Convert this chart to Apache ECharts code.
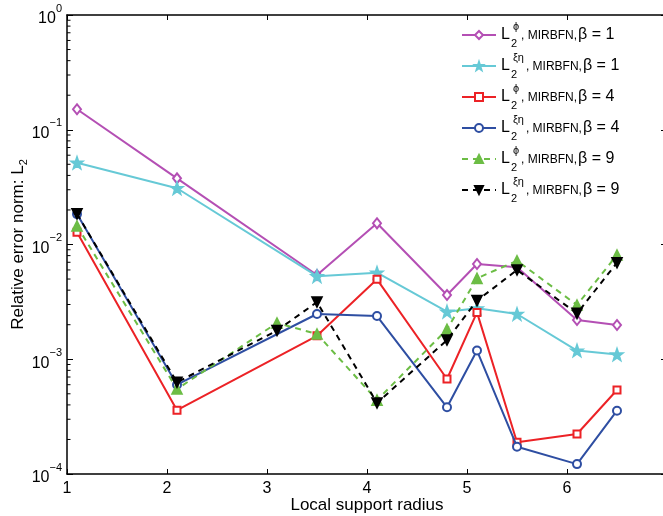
<!DOCTYPE html>
<html>
<head>
<meta charset="utf-8">
<script src="https://cdn.jsdelivr.net/npm/echarts@6/dist/echarts.min.js"></script>
<style>
html,body{margin:0;padding:0;background:#fff;}
#chart{width:663px;height:516px;}
</style>
</head>
<body>
<div id="chart"></div>
<script>
// ---- data ----
var xB14 = [1.1, 2.1, 3.5, 4.1, 4.8, 5.1, 5.5, 6.1, 6.5];
var xB9 = [1.1, 2.1, 3.1, 3.5, 4.1, 4.8, 5.1, 5.5, 6.1, 6.5];
var phiB1 = [0.151, 0.0377, 0.00542, 0.0153, 0.00363, 0.00676, 0.00633, 0.0022, 0.00199];
var xiB1 = [0.0516, 0.0309, 0.0053, 0.00568, 0.0026, 0.00278, 0.00248, 0.00119, 0.0011];
var phiB4 = [0.0128, 0.00036, 0.0016, 0.00497, 0.000673, 0.00256, 0.000189, 0.000223, 0.00054];
var xiB4 = [0.0184, 0.00060, 0.00248, 0.00238, 0.000381, 0.00119, 0.000173, 0.000122, 0.000356];
var phiB9 = [0.0145, 0.00055, 0.00207, 0.00166, 0.00044, 0.00182, 0.00507, 0.00722, 0.00297, 0.0081];
var xiB9 = [0.0185, 0.00063, 0.00178, 0.00315, 0.000416, 0.00147, 0.00324, 0.006, 0.00251, 0.00694];
var seriesNames = ['phiB1', 'xiB1', 'phiB4', 'xiB4', 'phiB9', 'xiB9'];
var seriesSup = ['\u03d5', '\u03be\u03b7', '\u03d5', '\u03be\u03b7', '\u03d5', '\u03be\u03b7'];
var seriesBeta = ['1', '1', '4', '4', '9', '9'];
var xTicks = [1, 2, 3, 4, 5, 6];
var yTickExps = [0, -1, -2, -3, -4];

function pairs(xs, ys) { return xs.map(function (x, i) { return [x, ys[i]]; }); }

var FONT = '"Liberation Sans", Arial, Helvetica, sans-serif';
var starPath = 'path://M0,-10L2.35,-3.24L9.51,-3.09L3.8,1.24L5.88,8.09L0,4L-5.88,8.09L-3.8,1.24L-9.51,-3.09L-2.35,-3.24Z';

var styles = [
  {color: '#b44fb4', symbol: 'emptyDiamond', size: [8, 10], dash: 'solid', data: pairs(xB14, phiB1)},
  {color: '#66c9d6', symbol: starPath, size: 12, dash: 'solid', data: pairs(xB14, xiB1)},
  {color: '#ec2226', symbol: 'emptyRect', size: 7, dash: 'solid', data: pairs(xB14, phiB4)},
  {color: '#2e4ea2', symbol: 'emptyCircle', size: 8, dash: 'solid', data: pairs(xB14, xiB4)},
  {color: '#6cbd45', symbol: 'triangle', size: 10, dash: [6, 5], data: pairs(xB9, phiB9)},
  {color: '#000000', symbol: 'triangle', size: 10, rotate: 180, dash: [6, 5], data: pairs(xB9, xiB9)}
];

var series = styles.map(function (s, i) {
  return {
    name: seriesNames[i],
    type: 'line',
    data: s.data,
    symbol: s.symbol,
    symbolSize: s.size,
    symbolRotate: s.rotate || 0,
    showAllSymbol: true,
    lineStyle: {color: s.color, width: 2, type: s.dash},
    itemStyle: {color: s.color, borderColor: s.color, borderWidth: 1.6},
    emphasis: {disabled: true},
    animation: false,
    z: 2 + i
  };
});

var chart = echarts.init(document.getElementById('chart'), null, {renderer: 'canvas'});

var supMinus = function (e) { return e < 0 ? '\u2212' + (-e) : String(e); };

var option = {
  animation: false,
  backgroundColor: '#ffffff',
  grid: {left: 67, top: 15, width: 600, height: 459, show: false, containLabel: false, outerBoundsMode: 'none'},
  legend: {
    show: true,
    left: 461,
    top: 21,
    padding: 0,
    orient: 'vertical',
    itemWidth: 34,
    itemHeight: 10,
    itemGap: 3,
    data: seriesNames,
    formatter: function (name) {
      var i = seriesNames.indexOf(name);
      return '{L|L}{sub|2}{sup|' + seriesSup[i] + '}{m|, MIRBFN,}{b|\u03b2 = ' + seriesBeta[i] + '}';
    },
    textStyle: {
      fontFamily: FONT,
      color: '#000',
      rich: {
        L: {fontSize: 16, fontFamily: FONT, color: '#000', lineHeight: 28},
        sub: {fontSize: 11, fontFamily: FONT, color: '#000', verticalAlign: 'bottom', lineHeight: 14, width: 1, padding: [0, 0, 0, 1]},
        sup: {fontSize: 11, fontFamily: FONT, color: '#000', verticalAlign: 'top', lineHeight: 14, padding: [0, 2, 0, 1]},
        m: {fontSize: 12, fontFamily: FONT, color: '#000', lineHeight: 28, padding: [2, 1, 0, 0]},
        b: {fontSize: 16, fontFamily: FONT, color: '#000', lineHeight: 28}
      }
    }
  },
  xAxis: [{
    type: 'value',
    min: 1, max: 7, interval: 1,
    position: 'bottom',
    name: 'Local support radius',
    nameLocation: 'middle',
    nameGap: 23,
    nameMoveOverlap: false,
    nameTextStyle: {fontFamily: FONT, fontSize: 17, color: '#000'},
    axisLine: {show: true, onZero: false, lineStyle: {color: '#000', width: 1.5}},
    axisTick: {show: true, inside: true, length: 5, lineStyle: {color: '#000', width: 1}},
    axisLabel: {
      show: true, margin: 7, fontFamily: FONT, fontSize: 16, color: '#000',
      showMaxLabel: false,
      formatter: function (v) { return xTicks.indexOf(v) >= 0 ? String(v) : ''; }
    },
    splitLine: {show: false}
  }, {
    type: 'value',
    min: 1, max: 7, interval: 1,
    position: 'top',
    axisLine: {show: true, onZero: false, lineStyle: {color: '#000', width: 1.5}},
    axisTick: {show: true, inside: true, length: 5, lineStyle: {color: '#000', width: 1}},
    axisLabel: {show: false},
    splitLine: {show: false}
  }],
  yAxis: [{
    type: 'log',
    logBase: 10,
    min: 1e-4, max: 1,
    position: 'left',
    name: 'Relative error norm: {n|L}{s|2}',
    nameLocation: 'middle',
    nameGap: 38,
    nameMoveOverlap: false,
    nameRotate: 90,
    nameTextStyle: {
      fontFamily: FONT, fontSize: 17, color: '#000',
      rich: {
        n: {fontFamily: FONT, fontSize: 17, color: '#000'},
        s: {fontFamily: FONT, fontSize: 11, color: '#000', verticalAlign: 'bottom', lineHeight: 22}
      }
    },
    axisLine: {show: true, onZero: false, lineStyle: {color: '#000', width: 1.5}},
    axisTick: {show: true, inside: true, length: 6, lineStyle: {color: '#000', width: 1}},
    axisLabel: {
      show: true, margin: 5, fontFamily: FONT, color: '#000',
      formatter: function (v) {
        var e = Math.round(Math.log10(v));
        return '{b|10}{e|' + supMinus(e) + '}';
      },
      rich: {
        b: {fontFamily: FONT, fontSize: 16, color: '#000', lineHeight: 24, verticalAlign: 'bottom'},
        e: {fontFamily: FONT, fontSize: 11, color: '#000', lineHeight: 14, verticalAlign: 'top'}
      }
    },
    minorTick: {show: false},
    splitLine: {show: false}
  }, {
    type: 'log',
    logBase: 10,
    min: 1e-4, max: 1,
    position: 'right',
    axisLine: {show: true, onZero: false, lineStyle: {color: '#000', width: 1.5}},
    axisTick: {show: true, inside: true, length: 6, lineStyle: {color: '#000', width: 1}},
    axisLabel: {show: false},
    splitLine: {show: false}
  }],
  series: series
};

chart.setOption(option);

// log-decade minor ticks (2..9 per decade), positioned through the chart's own scale
var minorGraphics = [];
yTickExps.forEach(function (e) {
  if (e >= 0) return;
  for (var k = 2; k <= 9; k++) {
    var v = k * Math.pow(10, e);
    var pL = chart.convertToPixel({xAxisIndex: 0, yAxisIndex: 0}, [1, v]);
    var pR = chart.convertToPixel({xAxisIndex: 0, yAxisIndex: 0}, [7, v]);
    minorGraphics.push({type: 'line', shape: {x1: pL[0], y1: pL[1], x2: pL[0] + 3.5, y2: pL[1]}, style: {stroke: '#000', lineWidth: 1}, silent: true});
    minorGraphics.push({type: 'line', shape: {x1: pR[0], y1: pR[1], x2: pR[0] - 3.5, y2: pR[1]}, style: {stroke: '#000', lineWidth: 1}, silent: true});
  }
});
chart.setOption({graphic: minorGraphics});
</script>
</body>
</html>
